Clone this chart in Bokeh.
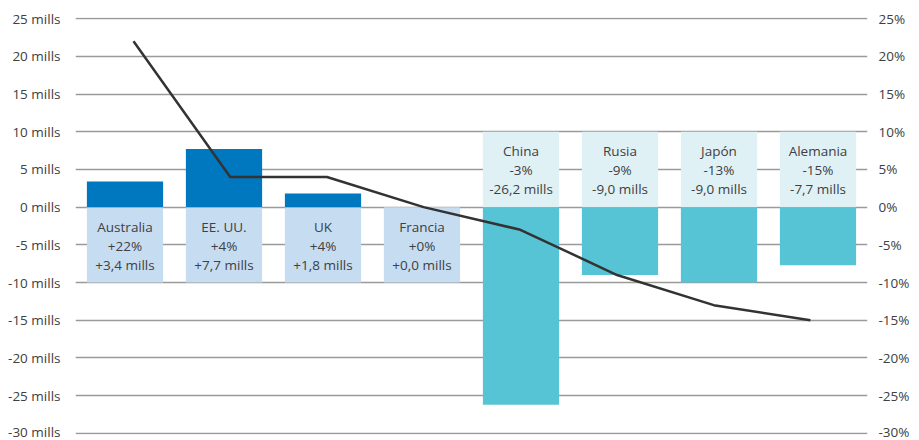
from bokeh.plotting import figure
from bokeh.models import (Range1d, LinearAxis, FixedTicker,
                          PrintfTickFormatter, ColumnDataSource)
from bokeh.core.properties import value
from bokeh.embed import file_html
from bokeh.resources import INLINE

# ---- data ----
countries = ["Australia", "EE. UU.", "UK", "Francia", "China", "Rusia", "Japón", "Alemania"]
change_mills = [3.4, 7.7, 1.8, 0.0, -26.2, -9.0, -10.0, -7.7]   # bar heights as drawn
change_pct = [22, 4, 4, 0, -3, -9, -13, -15]                    # line (right axis)
label_pct = ["+22%", "+4%", "+4%", "+0%", "-3%", "-9%", "-13%", "-15%"]
label_mills = ["+3,4 mills", "+7,7 mills", "+1,8 mills", "+0,0 mills",
               "-26,2 mills", "-9,0 mills", "-9,0 mills", "-7,7 mills"]
y_ticks = [-30, -25, -20, -15, -10, -5, 0, 5, 10, 15, 20, 25]

FONT = "Open Sans"
TXT = "#404040"
POS_BAR = "#0078bf"
NEG_BAR = "#57c4d5"
POS_BOX = "#c6dcf0"
NEG_BOX = "#dff1f5"

n = len(countries)
p = figure(width=919, height=440, x_range=Range1d(0, n),
           y_range=Range1d(-30.15, 25.15), output_backend="svg", toolbar_location=None,
           min_border_left=75, min_border_right=52, min_border_top=17, min_border_bottom=6)
p.outline_line_color = None
p.xaxis.visible = False
p.xgrid.visible = False
p.background_fill_color = "white"

ticker = FixedTicker(ticks=y_ticks)
p.yaxis.ticker = ticker
p.yaxis.formatter = PrintfTickFormatter(format="%d mills")
p.ygrid.ticker = ticker
p.ygrid.grid_line_color = "#9a9a9a"
p.ygrid.grid_line_width = 1.5

right = LinearAxis(ticker=ticker, formatter=PrintfTickFormatter(format="%d%%"))
p.add_layout(right, "right")

for ax in [p.yaxis[0], right]:
    ax.axis_line_color = None
    ax.major_tick_line_color = None
    ax.minor_tick_line_color = None
    ax.major_tick_out = 0
    ax.major_label_text_font = FONT
    ax.major_label_text_font_size = "13.5px"
    ax.major_label_text_color = TXT
p.yaxis[0].major_label_standoff = 15
right.major_label_standoff = 11

# label boxes and bars
xc = [i + 0.5 for i in range(n)]
pos = [v >= 0 for v in change_mills]
box_top = [0 if s else 10 for s in pos]
box_bot = [-10 if s else 0 for s in pos]
box_col = [POS_BOX if s else NEG_BOX for s in pos]
bar_col = [POS_BAR if s else NEG_BAR for s in pos]
box_mid = [(a + b) / 2 for a, b in zip(box_top, box_bot)]

src = ColumnDataSource(dict(x=xc, v=change_mills, bt=box_top, bb=box_bot,
                            bc=box_col, c=bar_col, ym=box_mid,
                            l1=countries, l2=label_pct, l3=label_mills))

p.vbar(x="x", top="bt", bottom="bb", width=0.77, fill_color="bc", line_color=None, source=src)
p.vbar(x="x", top="v", bottom=0, width=0.77, fill_color="c", line_color=None, source=src)

for col, off in [("l1", -19), ("l2", 0), ("l3", 19)]:
    p.text(x="x", y="ym", text=col, source=src, y_offset=off + 1,
           text_align="center", text_baseline="middle",
           text_font=value(FONT), text_font_size="13.5px", text_color=TXT)

# line on the percentage scale (same numeric scale as left axis)
p.extra_x_ranges = {"line": Range1d(-0.10, n + 0.09)}
p.line(xc, change_pct, x_range_name="line", line_color="#333333", line_width=2.5,
       line_join="round")

open("out.html", "w").write(file_html(p, INLINE))
